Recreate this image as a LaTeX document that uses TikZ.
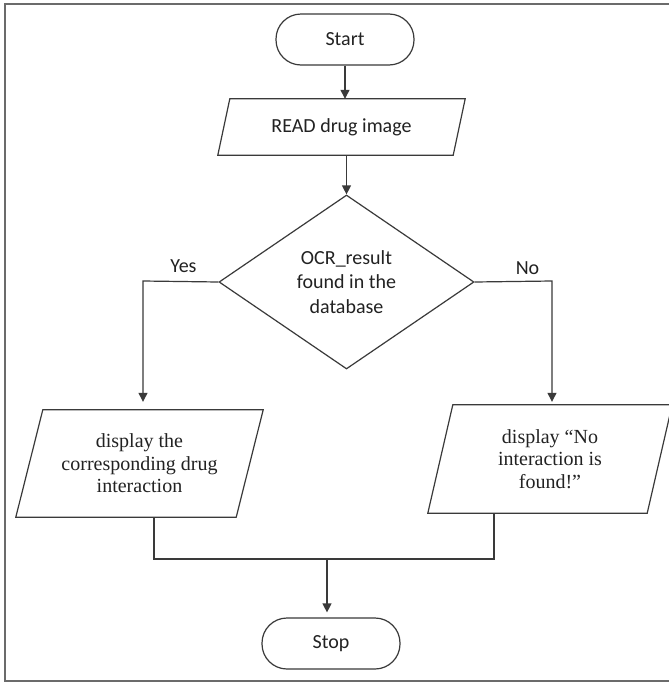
\documentclass[tikz,border=0pt]{standalone}
\usepackage{fontspec}
\setmainfont{Liberation Serif}
\newfontfamily\labelfont{Carlito}
\usetikzlibrary{shapes.geometric,arrows.meta,calc}
\definecolor{linegray}{HTML}{3A3A3A}
\definecolor{framegray}{HTML}{6B6B6B}
\definecolor{txt}{HTML}{222222}
\begin{document}
\begin{tikzpicture}[x=1pt,y=-1pt,
  line/.style={draw=linegray, line width=1.2pt},
  arr/.style={line, -{Triangle[length=9pt,width=9pt]}},
  sanslabel/.style={font=\labelfont\fontsize{20}{24.5}\selectfont, text=txt},
  term/.style={sanslabel, draw=linegray, line width=1.2pt, rounded corners=25pt,
    minimum width=138pt, minimum height=51pt, inner sep=0pt},
  iobox/.style={font=\fontsize{20}{22.5}\selectfont, text=txt, align=center,
    inner sep=0pt},
  decision/.style={sanslabel, diamond, draw=linegray, line width=1.2pt,
    minimum width=255pt, minimum height=174pt, aspect=1.47, inner sep=0pt,
    align=center}
]
\clip (0,0) rectangle (669,683);
\fill[white] (0,0) rectangle (669,683);
% frame
\draw[framegray, line width=1.8pt] (5,4) rectangle (690,681);

% nodes
\node[term] (start) at (345,39.5) {Start};
\node[iobox, minimum width=247pt, minimum height=56pt, sanslabel] (read) at (341.5,127) {READ drug image};
\node[decision] (dec) at (346.5,282) {OCR\_result\\found in the\\database};
\node[iobox, minimum width=247pt, minimum height=107pt] (lbox) at (139.5,463.5)
  {display the\\corresponding drug\\interaction};
\node[iobox, minimum width=244pt, minimum height=108pt] (rbox) at (550,459)
  {display “No\\interaction is\\found!”};
\node[term] (stop) at (331,643.5) {Stop};
\node[sanslabel, anchor=center] (yes) at (183.5,266) {Yes};
\node[sanslabel, anchor=center] (no) at (527.5,268) {No};

% parallelogram outlines
\draw[line] ($(read.north west)+(12,0)$) -- (read.north east)
  -- ($(read.south east)+(-12,0)$) -- (read.south west) -- cycle;
\draw[line] ($(lbox.north west)+(27,0)$) -- (lbox.north east)
  -- ($(lbox.south east)+(-27,0)$) -- (lbox.south west) -- cycle;
\draw[line] ($(rbox.north west)+(25,0)$) -- (rbox.north east)
  -- ($(rbox.south east)+(-25,0)$) -- (rbox.south west) -- cycle;

% helper coordinates
\coordinate (yesbend) at (143,281);
\coordinate (nobend) at (552,281);
\coordinate (jl) at (154,559);
\coordinate (jr) at (494,559);
\coordinate (jm) at (327,559);

% connectors
\draw[arr] (start.south) -- (start.south |- read.north);
\draw[arr] (read.south -| dec.north) -- (dec.north);
\draw[arr] (dec.west) -- (yesbend) -- ($(yesbend |- lbox.north)+(0,-8)$);
\draw[arr] (dec.east) -- (nobend) -- ($(nobend |- rbox.north)+(0,-3)$);
\draw[line] (lbox.south -| jl) -- (jl) -- (jr) -- (rbox.south -| jr);
\draw[arr, shorten >=5pt] (jm) -- (jm |- stop.north);
\end{tikzpicture}
\end{document}
